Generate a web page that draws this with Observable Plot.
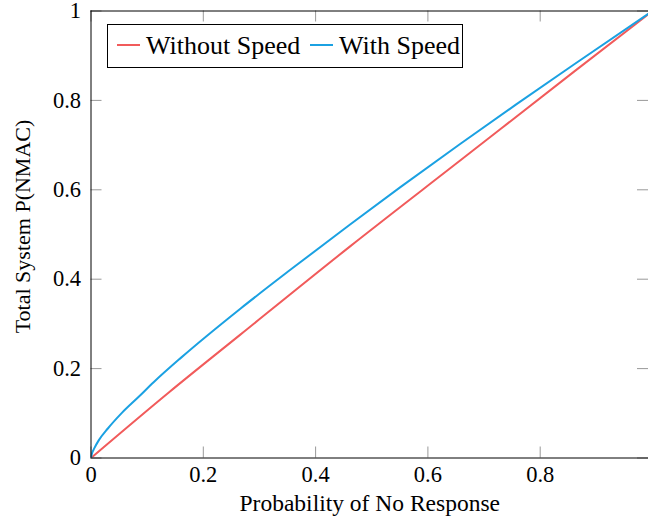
<!DOCTYPE html>
<html><head><meta charset="utf-8">
<script src="https://cdn.jsdelivr.net/npm/d3@7"></script>
<script src="https://cdn.jsdelivr.net/npm/@observablehq/plot@0.6"></script>
<style>
body{margin:0;overflow:hidden;background:#fff}
#wrap{position:relative;width:648px;height:525px;overflow:hidden}
#wrap svg{position:absolute;left:0;top:0}
</style></head><body><div id="wrap"></div>
<script>
const seriesNames = ["Without Speed", "With Speed"];
const seriesColors = ["#f15b5b", "#1ba1e2"];
const withoutX = [0, 0.138, 0.266, 0.462, 0.658, 0.862, 1];
const withoutY = [0, 0.146, 0.276, 0.474, 0.666, 0.866, 1];
const withX = [0, 0.002, 0.006, 0.014, 0.03, 0.055, 0.085, 0.112, 0.16, 0.266, 0.355, 0.462, 0.551, 0.658, 0.756, 0.862, 1];
const withY = [0, 0.011, 0.022, 0.04, 0.066, 0.101, 0.137, 0.17, 0.224, 0.334, 0.421, 0.523, 0.606, 0.703, 0.79, 0.882, 1];
const xTicks = [0, 0.2, 0.4, 0.6, 0.8];
const xTickLabels = ["0", "0.2", "0.4", "0.6", "0.8"];
const yTicks = [0, 0.2, 0.4, 0.6, 0.8, 1];
const yTickLabels = ["0", "0.2", "0.4", "0.6", "0.8", "1"];
const xLabel = "Probability of No Response";
const yLabel = "Total System P(NMAC)";

const data = [
  ...withoutX.map((x, i) => ({series: seriesNames[0], x, y: withoutY[i]})),
  ...withX.map((x, i) => ({series: seriesNames[1], x, y: withY[i]}))
];

const W = 648, H = 525, L = 90.5, T = 10.5, B = 457.5;
const frameW = W - L, frameH = B - T, tick = 11;
const font = "Liberation Serif";

const chart = Plot.plot({
  width: W, height: H,
  marginLeft: L, marginTop: T, marginBottom: H - B, marginRight: 0,
  style: {fontSize: "22px", color: "black", background: "white", overflow: "hidden"},
  x: {domain: [0, 1], range: [L, 652], axis: null},
  y: {domain: [0, 1], axis: null},
  color: {domain: seriesNames, range: seriesColors},
  marks: [
    Plot.ruleX(xTicks, {x: d => d, stroke: "#999", insetTop: frameH - tick}),
    Plot.ruleX(xTicks, {x: d => d, stroke: "#999", insetBottom: frameH - tick}),
    Plot.ruleY(yTicks, {y: d => d, stroke: "#999", insetRight: frameW - tick}),
    Plot.ruleY(yTicks, {y: d => d, stroke: "#999", insetLeft: frameW - tick}),
    Plot.line(data, {x: "x", y: "y", stroke: "series", strokeWidth: 2, curve: "monotone-x", clip: true}),
    Plot.ruleX([0], {stroke: "black"}),
    Plot.ruleY([0, 1], {stroke: "black"}),
    Plot.text(xTicks, {x: d => d, text: (d, i) => xTickLabels[i], frameAnchor: "bottom", lineAnchor: "top", dy: 8, fill: "black", fontFamily: font, fontSize: 22.5}),
    Plot.text(yTicks, {y: d => d, text: (d, i) => yTickLabels[i], frameAnchor: "left", textAnchor: "end", dx: -10, fill: "black", fontFamily: font, fontSize: 22.5}),
    Plot.text([xLabel], {text: d => d, frameAnchor: "bottom", textAnchor: "middle", dy: 53, fontSize: 23.5, fill: "black", fontFamily: font}),
    Plot.text([yLabel], {text: d => d, frameAnchor: "left", textAnchor: "middle", rotate: -90, dx: -68, dy: -8, fontSize: 22, fill: "black", fontFamily: font})
  ]
});
const wrap = document.getElementById("wrap");
wrap.appendChild(chart);

// legend overlay
const leg = d3.select(wrap).append("svg").attr("width", W).attr("height", H)
  .style("pointer-events", "none");
leg.append("rect").attr("x", 107.5).attr("y", 24.5).attr("width", 355).attr("height", 43)
  .attr("fill", "white").attr("stroke", "black");
const items = [{sx: 117, tx: 146}, {sx: 310, tx: 339}];
items.forEach((it, i) => {
  leg.append("line").attr("x1", it.sx).attr("x2", it.sx + 23).attr("y1", 45).attr("y2", 45)
    .attr("stroke", seriesColors[i]).attr("stroke-width", 2);
  leg.append("text").attr("x", it.tx).attr("y", 53.5).attr("font-size", 26)
    .attr("font-family", font).attr("fill", "black").text(seriesNames[i]);
});
</script></body></html>
